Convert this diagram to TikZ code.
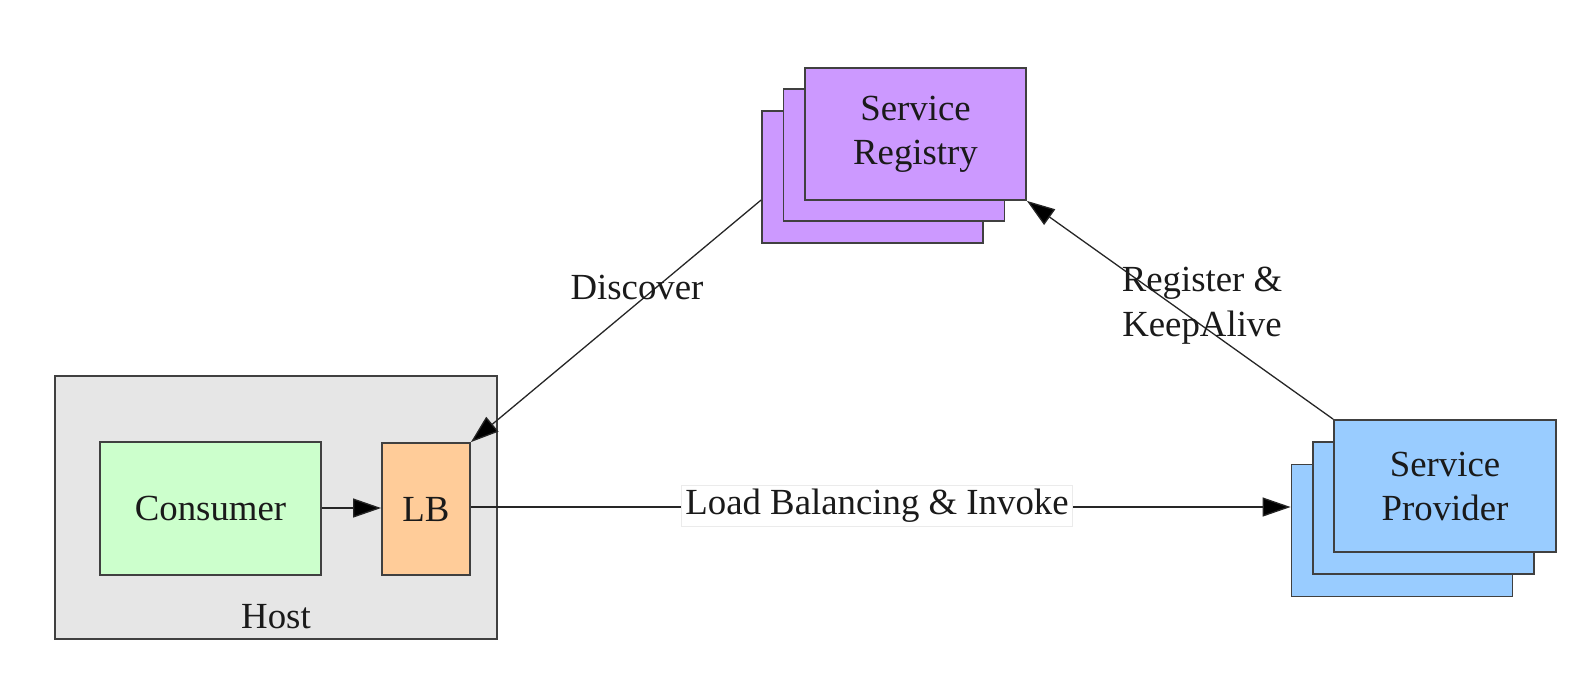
\documentclass[tikz,border=0pt]{standalone}
\usepackage{fontspec}
\setmainfont{Liberation Serif}
\usetikzlibrary{arrows.meta,calc}
\definecolor{regfill}{HTML}{CC99FF}
\definecolor{provfill}{HTML}{99CCFF}
\definecolor{consfill}{HTML}{CCFFCC}
\definecolor{lbfill}{HTML}{FFCC99}
\definecolor{hostfill}{HTML}{E6E6E6}
\definecolor{edge}{HTML}{404040}
\definecolor{txt}{HTML}{1A1A1A}
\tikzset{
  box/.style={draw=edge, line width=0.9pt, rectangle, inner sep=0pt, align=center,
    text=txt, font=\fontsize{18.4}{22}\selectfont},
  lbl/.style={text=txt, font=\fontsize{18.4}{22.5}\selectfont, align=center, inner sep=1pt},
  conn/.style={draw=black!85, line width=0.65pt},
  tip/.style={-{Triangle[length=14pt,width=9.5pt,fill=black]}}
}
\begin{document}
\begin{tikzpicture}[x=0.5pt,y=-0.5pt]
\useasboundingbox (0,0) rectangle (1589,677);
% Host
\node[box, fill=hostfill, minimum width=221pt, minimum height=131.5pt] (host) at (276,507.5) {};
\node[lbl] (hostlbl) at (276,617) {Host};
\node[box, fill=consfill, minimum width=110.5pt, minimum height=66.5pt] (cons) at (210.5,508.5) {Consumer};
\node[box, fill=lbfill, minimum width=44pt, minimum height=66pt] (lb) at (426,509) {LB};
% Registry stack
\node[box, fill=regfill, minimum width=110.5pt, minimum height=66pt] (regback) at (872.5,177) {};
\node[box, fill=regfill, minimum width=110.5pt, minimum height=66pt] (regmid) at (894,155) {};
\node[box, fill=regfill, minimum width=110.5pt, minimum height=66pt] (reg) at (915.5,134) {Service\\Registry};
% Provider stack
\node[box, fill=provfill, minimum width=110.5pt, minimum height=66pt] (provback) at (1402,530.5) {};
\node[box, fill=provfill, minimum width=110.5pt, minimum height=66pt] (provmid) at (1423.5,508) {};
\node[box, fill=provfill, minimum width=111pt, minimum height=66pt] (prov) at (1445,486) {Service\\Provider};
% connectors
\draw[conn,tip] (cons.east |- 0,508) -- (lb.west |- 0,508);
\coordinate (lbout) at (lb.east |- 0,507);
\coordinate (provin) at (provback.west |- 0,507);
\draw[conn,tip] (lbout) -- (provin);
\node[lbl, fill=white, draw=black!8, line width=0.5pt, inner sep=2pt] (lbinv) at (877,506) {Load Balancing \& Invoke};
\coordinate (discstart) at ($(regback.west)+(0,23)$);
\draw[conn,tip] (discstart) -- (lb.north east);
\node[lbl] (disc) at (637,287) {Discover};
\draw[conn,tip] (prov.north west) -- (reg.south east);
\node[lbl] (regka) at (1202,306) {Register \&\\KeepAlive};
\end{tikzpicture}
\end{document}
